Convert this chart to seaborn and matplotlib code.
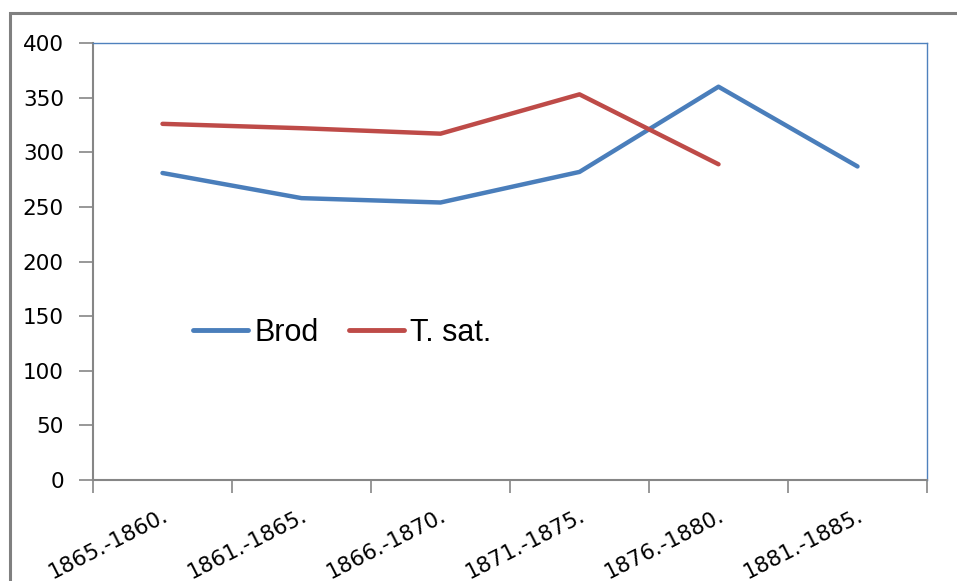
import numpy as np
import pandas as pd
import matplotlib
matplotlib.use("Agg")
import matplotlib.pyplot as plt
from matplotlib.patches import Rectangle
import seaborn as sns

# values
periods = ["1865.-1860.", "1861.-1865.", "1866.-1870.",
           "1871.-1875.", "1876.-1880.", "1881.-1885."]
brod = [281, 258, 254, 282, 360, 287]
t_sat = [326, 322, 317, 353, 289, np.nan]
series_names = ["Brod", "T. sat."]
colors = ["#4A7EBB", "#BE4B48"]
y_ticks = [0, 50, 100, 150, 200, 250, 300, 350, 400]

df = pd.DataFrame({
    "pos": list(range(len(periods))) * 2,
    "value": brod + t_sat,
    "series": [series_names[0]] * len(periods) + [series_names[1]] * len(periods),
}).dropna()

sns.set_style("white")
plt.rcParams["font.family"] = ["DejaVu Sans"]

fig = plt.figure(figsize=(9.57, 5.81), dpi=100)
ax = fig.add_axes([93 / 957, 1 - 480 / 581, 834 / 957, 437 / 581])

# outer chart frame (cropped on the right and bottom like the reference)
fig.patches.append(Rectangle((10 / 957, -0.05), 1.2, 1 - 13 / 581 + 0.05,
                             transform=fig.transFigure, fill=False,
                             edgecolor="#808080", linewidth=2.2))

sns.lineplot(data=df, x="pos", y="value", hue="series", palette=colors,
             hue_order=series_names, linewidth=3.2, ax=ax, legend=False,
             solid_capstyle="round")

ax.set_xlim(-0.5, len(periods) - 0.5)
ax.set_ylim(0, 400)
ax.set_yticks(y_ticks)
ax.set_yticklabels([str(v) for v in y_ticks], fontsize=15.5, color="black")
ax.set_xticks(range(len(periods)))
ax.set_xticklabels(periods, fontsize=15.5, rotation=27, ha="right",
                   rotation_mode="anchor", color="black")
ax.set_xticks(np.arange(-0.5, len(periods)), minor=True)
ax.tick_params(axis="x", which="major", length=0, pad=18)
ax.tick_params(axis="x", which="minor", length=9, width=1.2, color="#868686",
               direction="out", bottom=True)
ax.tick_params(axis="y", length=10, width=1.2, color="#868686",
               direction="out", left=True, pad=11)
ax.set_xlabel("")
ax.set_ylabel("")

for side in ["left", "bottom"]:
    ax.spines[side].set_color("#868686")
    ax.spines[side].set_linewidth(1.5)
for side in ["top", "right"]:
    ax.spines[side].set_color("#4F81BD")
    ax.spines[side].set_linewidth(1.0)

handles = [plt.Line2D([], [], color=c, linewidth=3.5, solid_capstyle="round")
           for c in colors]
fig.legend(handles, series_names, loc="center left",
           bbox_to_anchor=(193 / 957, 1 - 333 / 581), ncol=2, frameon=False,
           prop={"family": "Liberation Sans", "size": 22},
           handlelength=1.8, handletextpad=0.2, columnspacing=1.0,
           borderpad=0, borderaxespad=0)
for t in fig.legends[0].get_texts():
    t.set_color("black")

fig.savefig("out.png", dpi=100)
